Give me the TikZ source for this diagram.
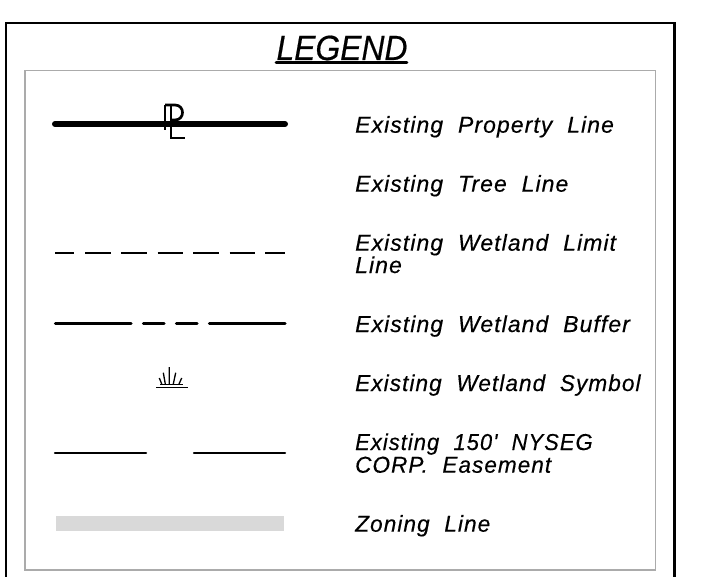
\documentclass[tikz,border=0pt]{standalone}
\usepackage{fontspec}
\setmainfont{Liberation Sans}
\newfontfamily\lblfont[LetterSpace=4.6,WordSpace=2.0,FakeBold=0.35]{Liberation Sans}
\newfontfamily\titlefont[FakeBold=0.5]{Liberation Sans}
\definecolor{framegray}{HTML}{ABABAB}
\definecolor{zonegray}{HTML}{D9D9D9}
\tikzset{
  lbl/.style={anchor=base west,inner sep=0pt,font=\lblfont\fontsize{23}{22.5}\selectfont\itshape,align=left},
  dashlimit/.style={line width=1.3pt},
  buffer/.style={line width=3.2pt,line cap=round},
  easement/.style={line width=2.5pt,line cap=round},
  symbol/.style={line width=1.3pt}
}
\begin{document}
\begin{tikzpicture}[x=1pt,y=-1pt]
\useasboundingbox (0,0) rectangle (727,577);
\draw[line width=2.3pt] (6,577) -- (6,23) -- (674.5,23) -- (674.5,577);
\draw[line width=1.3pt,color=framegray] (25,70.7) rectangle (655.7,570);
\node[inner sep=0pt,anchor=base,xscale=0.91,font=\titlefont\fontsize{35}{35}\selectfont\itshape] (title) at (342,60) {LEGEND};
\coordinate (ul1) at (276,62.3); \coordinate (ul2) at (407,62.3);
\draw[line width=2.8pt,line cap=round] (ul1) -- (ul2);
% property line
\coordinate (p1) at (55,124); \coordinate (p2) at (285,124);
\draw[line width=6pt,line cap=round] (p1) -- (p2);
\draw[line width=2.7pt] (165,105) -- (165,130) (171,105) -- (171,138) -- (184.5,138);
\draw[line width=2.7pt] (165,105) -- (175,105) .. controls (185,105) and (185,120) .. (175,120) -- (171,120);
\node[lbl] (t1) at (355,132.7) {Existing Property Line};
\node[lbl] (t2) at (355,191.7) {Existing Tree Line};
\node[lbl] (t3a) at (355,250.7) {Existing Wetland Limit};
\node[lbl] (t3b) at (355,273) {Line};
\node[lbl] (t4) at (355,332) {Existing Wetland Buffer};
\node[lbl,xscale=0.984] (t5) at (355,391) {Existing Wetland Symbol};
\node[lbl,xscale=0.956] (t6a) at (355,450) {Existing 150' NYSEG};
\node[lbl,xscale=0.98] (t6b) at (355,472.7) {CORP. Easement};
\node[lbl,xscale=0.985] (t7) at (355,531.7) {Zoning Line};
% wetland limit
\draw[dashlimit] (55,253) -- (74.3,253) (85.3,253) -- (110.7,253) (121.3,253) -- (146.7,253) (157.7,253) -- (183,253) (193.3,253) -- (218.7,253) (229.7,253) -- (255,253) (265.3,253) -- (285,253);
% buffer
\draw[buffer] (55.5,323.7) -- (131,323.7) (143.5,323.7) -- (164,323.7) (176.5,323.7) -- (197,323.7) (209.5,323.7) -- (285,323.7);
% symbol
\draw[symbol] (156,387.7) -- (187.7,387.7) (160,384.3) -- (183,384.3);
\draw[symbol] (169.3,367) -- (169.3,384) (163.3,372.7) -- (165.3,384) (175.7,372.7) -- (173.3,384) (159.3,378) -- (161.7,384) (181.7,378) -- (179,384);
% easement
\draw[easement] (55,453) -- (146,453) (194,453) -- (285,453);
% zoning
\fill[zonegray] (56,516) rectangle (284,531);
\end{tikzpicture}
\end{document}
